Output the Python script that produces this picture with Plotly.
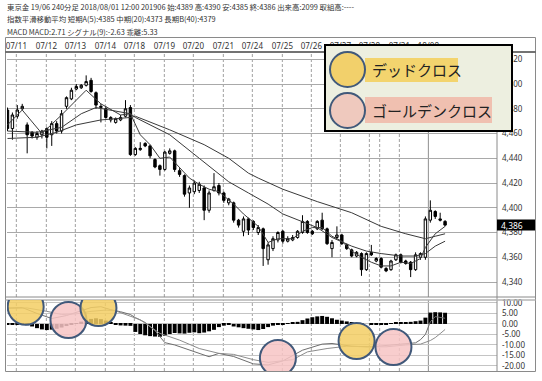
import plotly.graph_objects as go

W, H = 542, 381

# ---------------- data ----------------
header_lines = [
    "東京金 19/06 240分足 2018/08/01 12:00 201906 始:4389 高:4390 安:4385 終:4386 出来高:2099 取組高:----",
    "指数平滑移動平均 短期A(5):4385 中期(20):4373 長期B(40):4379",
    "MACD MACD:2.71 シグナル(9):-2.63 乖離:5.33",
]

date_labels = ["07/11", "07/12", "07/13", "07/14", "07/18", "07/19", "07/20", "07/21",
               "07/24", "07/25", "07/26", "07/27", "07/28", "07/31", "18/08"]
date_pos = [1.8, 7.9, 13.8, 19.9, 25.8, 31.9, 37.8, 43.9, 49.8, 55.9, 61.8, 67.7, 73.6, 79.7, 85.6]
extra_day_lines = [75.7]
month_start = 85.6

opens = [4479, 4464, 4474, 4480, 4467, 4461, 4457, 4459, 4464, 4459,
         4468, 4462, 4482, 4488, 4496, 4497, 4499, 4503, 4493, 4481,
         4480, 4471, 4469, 4471, 4474, 4481, 4443, 4447, 4452, 4450,
         4439, 4434, 4431, 4444, 4446, 4430, 4426, 4412, 4413, 4414,
         4416, 4398, 4414, 4418, 4412, 4404, 4404, 4390, 4381, 4391,
         4389, 4380, 4383, 4358, 4367, 4374, 4381, 4373, 4374, 4376,
         4380, 4389, 4381, 4383, 4390, 4383, 4367, 4376, 4378, 4370,
         4366, 4361, 4363, 4350, 4364, 4357, 4359, 4351, 4350, 4358,
         4362, 4357, 4356, 4350, 4360, 4360, 4390, 4397, 4391, 4389]
highs = [4481, 4477, 4483, 4484, 4469, 4462, 4462, 4463, 4465, 4470,
         4470, 4479, 4490, 4497, 4500, 4500, 4507, 4505, 4494, 4484,
         4482, 4474, 4473, 4475, 4487, 4483, 4449, 4453, 4453, 4451,
         4440, 4435, 4446, 4448, 4447, 4432, 4427, 4418, 4422, 4421,
         4418, 4414, 4428, 4420, 4413, 4408, 4405, 4391, 4393, 4392,
         4390, 4386, 4384, 4372, 4377, 4381, 4382, 4377, 4378, 4382,
         4394, 4390, 4382, 4390, 4396, 4384, 4374, 4385, 4379, 4371,
         4367, 4365, 4364, 4364, 4370, 4360, 4360, 4352, 4358, 4363,
         4363, 4358, 4357, 4364, 4364, 4393, 4406, 4398, 4396, 4390]
lows = [4462, 4455, 4472, 4479, 4444, 4456, 4455, 4456, 4448, 4450,
        4460, 4460, 4480, 4487, 4495, 4496, 4498, 4493, 4480, 4469,
        4472, 4469, 4468, 4470, 4473, 4442, 4442, 4446, 4449, 4440,
        4432, 4426, 4430, 4443, 4429, 4425, 4409, 4400, 4411, 4412,
        4390, 4396, 4413, 4410, 4404, 4402, 4388, 4384, 4377, 4378,
        4382, 4378, 4353, 4354, 4365, 4372, 4371, 4372, 4373, 4375,
        4379, 4379, 4378, 4382, 4382, 4370, 4360, 4375, 4370, 4366,
        4360, 4360, 4345, 4349, 4361, 4356, 4351, 4348, 4349, 4357,
        4355, 4354, 4344, 4349, 4358, 4358, 4388, 4391, 4389, 4385]
closes = [4464, 4475, 4479, 4482, 4459, 4458, 4460, 4462, 4457, 4468,
          4462, 4476, 4489, 4495, 4498, 4499, 4502, 4494, 4483, 4482,
          4473, 4473, 4472, 4473, 4480, 4443, 4448, 4448, 4450, 4442,
          4433, 4431, 4445, 4446, 4431, 4427, 4411, 4416, 4420, 4419,
          4398, 4412, 4417, 4412, 4406, 4407, 4390, 4386, 4391, 4382,
          4384, 4384, 4367, 4370, 4375, 4380, 4373, 4375, 4376, 4381,
          4389, 4380, 4379, 4389, 4383, 4371, 4372, 4378, 4371, 4367,
          4361, 4364, 4350, 4363, 4362, 4359, 4352, 4349, 4357, 4362,
          4356, 4355, 4350, 4362, 4363, 4391, 4398, 4393, 4390, 4386]

# moving averages (bar index, value)
ema5_x = [0, 3, 7, 11, 16, 19, 23, 25, 27, 29, 31, 33, 37, 39, 41, 43, 46, 48, 51, 53,
          55, 58, 60, 62, 64, 66, 68, 70, 72, 74, 76, 78, 80, 82, 84, 85, 87, 89]
ema5_y = [4467, 4479, 4460, 4475, 4495, 4484, 4475, 4476, 4459, 4451, 4440, 4441, 4424, 4419,
          4415, 4413, 4403, 4395, 4385, 4372, 4375, 4375, 4381, 4384, 4384, 4377, 4373, 4365,
          4360, 4356, 4353, 4353, 4356, 4355, 4359, 4368, 4379, 4385]
ema20_x = [0, 6, 11, 15, 18, 21, 25, 26, 33, 39, 45, 49, 53, 56, 60, 63, 66, 70, 73, 76,
           80, 83, 85, 87, 89]
ema20_y = [4462, 4461, 4465, 4476, 4481, 4479, 4476, 4473, 4459, 4440, 4421, 4412, 4403, 4395,
           4389, 4384, 4376, 4369, 4365, 4363, 4361, 4361, 4363, 4369, 4373]
ema40_x = [0, 6, 10, 14, 19, 23, 25, 26, 33, 40, 45, 49, 51, 56, 63, 70, 76, 81, 85, 87, 89]
ema40_y = [4456, 4457, 4461, 4467, 4471, 4472, 4473, 4474, 4463, 4451, 4440, 4428, 4424, 4415,
           4405, 4396, 4385, 4379, 4375, 4377, 4379]

# MACD panel
macd_x = [0, 3, 6, 9, 12, 15, 17, 19, 21, 23, 25, 26, 28, 30, 32, 34, 38, 41, 43, 46, 50, 53,
          56, 60, 64, 66, 70, 74, 80, 83, 84, 85, 86, 87, 89]
macd_y = [7.6, 7.8, 5.0, 2.6, 4.0, 6.5, 7.8, 8.2, 6.8, 5.8, 4.5, 3.0, 0.7, -3.2, -8.9, -10.0,
          -13.0, -15.6, -14.0, -15.5, -19.0, -19.5, -17.6, -12.5, -9.6, -9.3, -10.6, -10.9,
          -9.6, -9.0, -7.5, -5.0, 1.0, 3.5, 2.71]
signal_x = [0, 4, 8, 11, 14, 17, 20, 22, 27, 31, 35, 39, 43, 46, 50, 53, 58, 61, 65, 69, 73,
            77, 81, 84, 86, 87, 88, 89]
signal_y = [7.4, 7.6, 6.0, 4.5, 4.8, 6.0, 6.6, 6.2, 2.0, -4.5, -7.7, -11.7, -14.0, -14.5,
            -17.0, -18.3, -17.0, -13.3, -11.7, -10.6, -10.9, -10.9, -10.0, -9.6, -7.9, -6.5,
            -4.6, -2.63]
osc = [-0.2, -0.3, -0.3, -0.4, -0.6, -1.2, -2.0, -2.6, -2.9, -2.7,
       -2.3, -1.7, -1.0, -0.4, 0.4, 1.1, 1.8, 2.4, 2.7, 2.3,
       1.6, 0.8, -0.4, -0.7, -0.8, -0.9, -3.8, -4.8, -5.4, -5.8,
       -6.0, -6.1, -5.6, -4.8, -4.3, -4.5, -4.6, -4.2, -4.0, -4.4,
       -4.1, -3.5, -2.8, -1.5, -0.8, -0.3, -1.2, -1.6, -2.0, -2.3,
       -2.6, -2.9, -2.4, -1.5, -0.8, -0.4, -0.1, 0.1, 0.5, 1.0,
       1.8, 2.6, 3.2, 3.6, 3.8, 3.4, 2.7, 2.0, 1.6, 1.2,
       0.8, 0.4, 0.1, 0.0, -0.3, -0.4, -0.3, -0.2, 0.4, 0.7,
       0.8, 0.9, 1.0, 1.3, 1.6, 3.0, 5.4, 5.6, 5.5, 5.33]

# crosses marked with circles: (bar index, MACD value, kind)
cross_x = [3.7, 12.4, 18.5, 55.0, 71.0, 78.5]
cross_y = [8.2, 1.9, 7.6, -16.2, -8.1, -11.0]
cross_kind = ["dead", "golden", "dead", "golden", "dead", "golden"]

legend_labels = {"dead": "デッドクロス", "golden": "ゴールデンクロス"}

price_ticks = list(range(4340, 4521, 20))
macd_ticks = [10, 5, 0, -5, -10, -15, -20]

# ---------------- helpers ----------------
def px(x):
    return x / W

def py(y):
    return 1 - y / H

YELLOW = "rgba(243,206,100,0.85)"
PINK = "rgba(247,196,196,0.85)"
RING = "#41597a"
JP = "Noto Sans CJK JP"

n = len(closes)
idx = list(range(n))

fig = go.Figure()
fig.add_trace(go.Candlestick(
    x=idx, open=opens, high=highs, low=lows, close=closes,
    increasing=dict(line=dict(color="black", width=1), fillcolor="white"),
    decreasing=dict(line=dict(color="black", width=1), fillcolor="black"),
    whiskerwidth=0, xaxis="x", yaxis="y", hoverinfo="skip"))
for xs, ys in [(ema5_x, ema5_y), (ema20_x, ema20_y), (ema40_x, ema40_y)]:
    fig.add_trace(go.Scatter(x=xs, y=ys, mode="lines",
                             line=dict(color="#3a3a3a", width=1),
                             xaxis="x", yaxis="y", hoverinfo="skip"))

fig.add_trace(go.Bar(x=idx, y=osc, marker=dict(color="black", line=dict(width=0)),
                     xaxis="x2", yaxis="y2", hoverinfo="skip"))
fig.add_trace(go.Scatter(x=macd_x, y=macd_y, mode="lines",
                         line=dict(color="#6e6e6e", width=1), xaxis="x2", yaxis="y2",
                         hoverinfo="skip"))
fig.add_trace(go.Scatter(x=signal_x, y=signal_y, mode="lines",
                         line=dict(color="#8c8c8c", width=1), xaxis="x2", yaxis="y2",
                         hoverinfo="skip"))

xr = [-0.1, (497 - 7) / (29.5 / 6) - 0.1]
xdom = [px(7), px(497)]

fig.update_layout(
    width=W, height=H,
    margin=dict(l=0, r=0, t=0, b=0, pad=0),
    paper_bgcolor="white", plot_bgcolor="white",
    showlegend=False, bargap=0.2,
    xaxis=dict(domain=xdom, range=xr, anchor="y", side="top",
               tickvals=date_pos, ticktext=date_labels,
               tickfont=dict(family="Noto Sans", size=8, color="#333"),
               ticks="", showgrid=False, zeroline=False, showline=False,
               rangeslider=dict(visible=False), automargin=False, fixedrange=True),
    xaxis2=dict(domain=xdom, range=xr, anchor="y2", matches="x", showticklabels=False,
                ticks="", showgrid=False, zeroline=False, showline=False, automargin=False),
    yaxis=dict(domain=[py(297), py(52)], range=[4327.9, 4525.9], side="right", anchor="x",
               tickvals=price_ticks, tickformat=",d",
               tickfont=dict(family="Noto Sans", size=8, color="#333"),
               ticks="", ticklabelstandoff=4,
               showgrid=True, gridcolor="#a9a9a9", gridwidth=1,
               zeroline=False, showline=False, automargin=False),
    yaxis2=dict(domain=[py(371), py(300)], range=[-22.4, 11.4], side="right", anchor="x2",
                tickvals=macd_ticks, ticktext=[f"{v:.2f}" for v in macd_ticks],
                tickfont=dict(family="Noto Sans", size=8, color="#333"),
                ticks="", ticklabelstandoff=4,
                showgrid=True, gridcolor="#c4c4c4", gridwidth=1,
                zeroline=False, showline=False, automargin=False),
)

shapes = []
# vertical day lines in both panels
for yref in ["y domain", "y2 domain"]:
    for d in date_pos + extra_day_lines:
        solid = (d == month_start)
        shapes.append(dict(type="line", xref="x", yref=yref, x0=d, x1=d, y0=0, y1=1,
                           line=dict(color="#8f8f8f" if solid else "#a0a0a0", width=1,
                                     dash="solid" if solid else "3px,2px"),
                           layer="below"))

# frames
frame_col = "#8a8a8a"
shapes += [
    dict(type="rect", xref="paper", yref="paper", x0=px(5.5), x1=px(535.5), y0=py(371.5), y1=py(37.5),
         line=dict(color=frame_col, width=1)),
    dict(type="line", xref="paper", yref="paper", x0=px(497), x1=px(497), y0=py(371.5), y1=py(52),
         line=dict(color=frame_col, width=1)),
    dict(type="line", xref="paper", yref="paper", x0=px(5.5), x1=px(535.5), y0=py(52), y1=py(52),
         line=dict(color="#444", width=1.5)),
    dict(type="line", xref="paper", yref="paper", x0=px(5.5), x1=px(535.5), y0=py(297), y1=py(297),
         line=dict(color=frame_col, width=1)),
    dict(type="line", xref="paper", yref="paper", x0=px(5.5), x1=px(535.5), y0=py(300), y1=py(300),
         line=dict(color="#b5b5b5", width=1.5)),
]

# last price marker
shapes.append(dict(type="rect", xref="paper", yref="y", x0=px(497), x1=px(535),
                   ysizemode="pixel", yanchor=closes[-1], y0=-5.5, y1=5.5,
                   fillcolor="black", line=dict(width=0), layer="above"))

# cross circles on MACD
for cx, cy, k in zip(cross_x, cross_y, cross_kind):
    shapes.append(dict(type="circle", xref="x2", yref="y2", xsizemode="pixel", ysizemode="pixel",
                       xanchor=cx, yanchor=cy, x0=-18, x1=18, y0=-18, y1=18,
                       fillcolor=YELLOW if k == "dead" else PINK,
                       line=dict(color=RING, width=2), layer="above"))

# legend box
shapes += [
    dict(type="rect", xref="paper", yref="paper", x0=px(325), x1=px(512), y0=py(131), y1=py(45),
         fillcolor="#edefe0", line=dict(color="black", width=2), layer="above"),
    dict(type="rect", xref="paper", yref="paper", x0=px(365), x1=px(458), y0=py(82), y1=py(58),
         fillcolor="#f3d46e", line=dict(width=0), layer="above"),
    dict(type="rect", xref="paper", yref="paper", x0=px(365), x1=px(492), y0=py(123), y1=py(97),
         fillcolor="#f0c0b0", line=dict(width=0), layer="above"),
    dict(type="circle", xref="paper", yref="paper", x0=px(330), x1=px(365), y0=py(87), y1=py(52),
         fillcolor="#f2d06b", line=dict(color=RING, width=2), layer="above"),
    dict(type="circle", xref="paper", yref="paper", x0=px(330), x1=px(365), y0=py(128), y1=py(93),
         fillcolor="#efc9be", line=dict(color=RING, width=2), layer="above"),
]
fig.update_layout(shapes=shapes)

ann = []
for i, (t, yy) in enumerate(zip(header_lines, [6.5, 18.5, 31])):
    ann.append(dict(text=t, x=px(5), y=py(yy), xref="paper", yref="paper", xanchor="left",
                    yanchor="middle", showarrow=False,
                    font=dict(family=JP, size=7.4, color="#333")))
ann.append(dict(text=f"{closes[-1]:,}", x=px(499), y=closes[-1], xref="paper", yref="y",
                xanchor="left", yanchor="middle", showarrow=False,
                font=dict(family="Noto Sans", size=8.5, color="white")))
ann.append(dict(text=legend_labels["dead"], x=px(370), y=py(70), xref="paper", yref="paper",
                xanchor="left", yanchor="middle", showarrow=False,
                font=dict(family=JP, size=15, color="#222")))
ann.append(dict(text=legend_labels["golden"], x=px(370), y=py(110.5), xref="paper", yref="paper",
                xanchor="left", yanchor="middle", showarrow=False,
                font=dict(family=JP, size=15, color="#222")))
fig.update_layout(annotations=ann)

fig.write_html("out.html", config={"displayModeBar": False},
               post_script="document.body.style.margin='0';document.body.style.padding='0';")
